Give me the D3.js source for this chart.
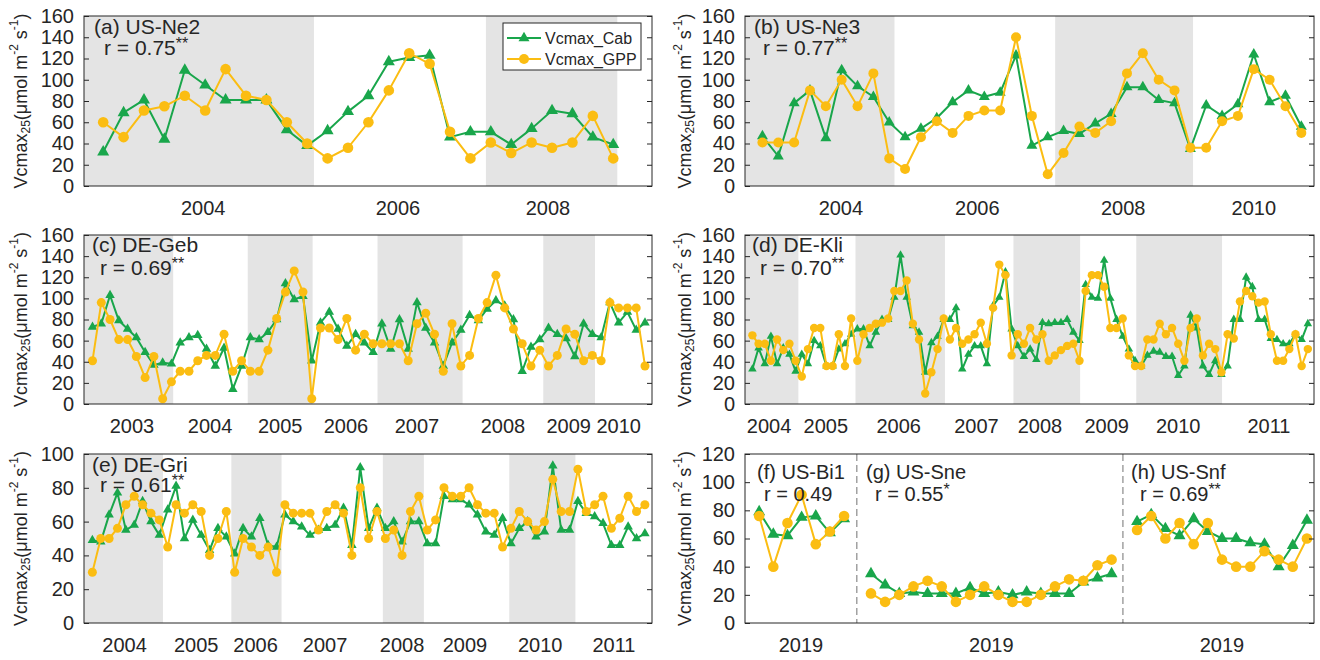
<!DOCTYPE html>
<html>
<head>
<meta charset="utf-8">
<script src="https://cdn.jsdelivr.net/npm/d3@7"></script>
<style>
body { margin: 0; background: #ffffff; }
text { font-family: "Liberation Sans", Arial, sans-serif; fill: #262626; }
</style>
</head>
<body>
<div id="canvas_vcmax"></div>
<script>
// ----------------------------------------------------------
// DATA -----------------------------------------------------
// ----------------------------------------------------------
// (a) US-Ne2
var cab_a = [32,69,81,44,109,95,81,81,81,53,38,52,70,85,117,121,123,46,51,51,39,54,71,68,46,39];
var gpp_a = [60,46,71,75,85,71,110,85,81,60,40,26,36,60,90,125,115,51,26,41,31,41,36,41,66,26];
// (b) US-Ne3
var cab_b = [47,28,78,90,45,109,94,84,60,46,54,64,79,90,84,88,123,38,46,52,49,59,68,93,93,81,78,35,76,66,77,124,79,85,56];
var gpp_b = [41,41,41,90,75,100,75,106,26,16,46,61,50,66,71,71,140,66,11,31,56,50,61,106,125,100,90,36,36,61,66,110,100,75,50];
// (c) DE-Geb
var cab_c = [73,76,103,79,71,63,49,37,39,38,58,63,65,52,36,53,14,36,63,61,68,80,114,99,102,41,77,87,71,55,66,58,49,76,52,80,52,96,72,58,36,58,70,84,79,90,98,93,80,31,54,61,72,66,62,45,76,66,63,96,77,87,70,77];
var gpp_c = [41,96,80,61,61,45,25,45,5,21,31,31,41,46,46,66,31,41,31,31,51,81,106,126,106,5,72,72,61,81,51,66,57,57,57,57,41,76,86,66,31,76,36,46,81,96,122,91,71,57,36,51,36,46,71,66,41,46,41,96,91,91,91,36];
// (d) DE-Kli
var cab_d = [33,53,38,64,38,53,47,31,47,38, 60,55,36,36,52,57,66,71,71,55, 68,80,80,101,141,101,74,68,30,58,
  64,80,80,91,33,47,55,55,38,93, 101,125,71,55,45,52,42,77,76,77, 77,80,68,60,113,101,100,136,100,80,
  64,52,41,36,46,50,49,45,45,27, 36,84,72,36,28,41,28,36,80,80, 120,111,80,80,62,61,57,57,66,61, 76];
var gpp_d = [65,57,57,41,61,51,57,41,26,52, 72,72,36,36,66,36,81,41,66,72, 76,77,81,107,107,117,76,61,10,30,
  52,81,61,72,57,61,66,77,57,91, 132,122,46,66,57,72,61,66,41,46, 51,55,57,41,107,122,122,111,72,72,
  81,46,36,36,61,61,76,66,72,57, 41,72,81,46,57,52,30,66,62,97, 107,102,96,97,66,41,41,52,66,36, 52];
// (e) DE-Gri
var cab_e = [49,48,64,77,55,58,72,60,52,67, 81,50,61,52,43,56,51,41,56,51, 62,46,45,64,60,57,52,55,56,58,
  68,46,92,56,68,56,60,48,60,60, 47,47,75,73,73,70,64,54,52,62, 47,56,60,51,54,93,55,55,72,65, 63,59,46,46,57,50,53];
var gpp_e = [30,50,50,56,70,75,70,65,61,45, 70,65,70,66,40,50,66,30,50,45, 40,45,30,70,65,65,65,55,66,70,
  65,40,80,50,66,50,55,40,66,75, 55,61,80,75,75,80,70,65,65,45, 56,66,60,55,60,85,66,66,91,66, 70,75,56,62,75,66,70];
// (f) US-Bi1, (g) US-Sne, (h) US-Snf
var cab_f = [79,63,62,75,76,64,74];
var gpp_f = [76,40,71,91,56,65,76];
var cab_g = [35,27,21,22,21,21,21,25,21,22,20,22,21,21,21,29,32,35];
var gpp_g = [21,15,20,26,30,26,15,20,26,20,15,15,20,26,31,30,41,45];
var cab_h = [72,77,67,62,74,65,60,60,57,56,40,55,73];
var gpp_h = [66,76,60,71,56,71,45,40,40,51,45,40,60];

// growing-season blocks (grey), in point-index units
var shade_a = [[-2, 10.33], [18.76, 25.2]];
var shade_b = [[-2, 8.33], [18.47, 27.17]];
var shade_c = [[-2, 9.2], [17.7, 25.1], [32.5, 42.2], [51.4, 57.3]];
var shade_d = [[-2, 7.45], [16.7, 31.2], [42.3, 53.1], [62.2, 76.1]];
var shade_e = [[-2, 8.43], [16.6, 22.6], [34.7, 39.6], [49.8, 57.7]];

// year tick labels [label, position in point-index units]
var years_a = [["2004", 4.9], ["2006", 14.45], ["2008", 21.8]];
var years_b = [["2004", 4.95], ["2006", 13.56], ["2008", 22.76], ["2010", 31]];
var years_c = [["2003", 4.5], ["2004", 13.4], ["2005", 21.4], ["2006", 28.9], ["2007", 37], ["2008", 46.8], ["2009", 54.3], ["2010", 60]];
var years_d = [["2004", 2.7], ["2005", 11.9], ["2006", 23.7], ["2007", 36.3], ["2008", 46.6], ["2009", 57.4], ["2010", 69], ["2011", 83.7]];
var years_e = [["2004", 3.85], ["2005", 12.4], ["2006", 19.5], ["2007", 27.8], ["2008", 37], ["2009", 44.5], ["2010", 53.5], ["2011", 62.3]];
var years_fgh = [["2019", 2.95], ["2019", 16.4], ["2019", 32.7]];

var yticks_160 = [0, 20, 40, 60, 80, 100, 120, 140, 160];
var yticks_100 = [0, 20, 40, 60, 80, 100];
var yticks_120 = [0, 20, 40, 60, 80, 100, 120];

var legend_labels = ["Vcmax_Cab", "Vcmax_GPP"];

// ----------------------------------------------------------
// STYLE ----------------------------------------------------
// ----------------------------------------------------------
var style = {
  color_cab: "#19a64b",
  color_gpp: "#fbbd12",
  color_shade: "#e4e4e4",
  color_axis: "#262626",
  color_dash: "#8a8a8a"
};

// ----------------------------------------------------------
// STRUCTURE ------------------------------------------------
// ----------------------------------------------------------
var svg = d3.select("#canvas_vcmax").append("svg")
  .attr("width", 1320)
  .attr("height", 660)
  .style("background-color", "#ffffff");

var col_left = [84, 652];
var col_right = [745, 1314];
var row_1 = [16, 186], row_2 = [235, 404], row_3 = [454, 623];

var panels = [
  { id: "a", xr: col_left, yr: row_1, xlim: [-0.94, 26.9], ymax: 160, yticks: yticks_160,
    shade: shade_a, years: years_a, tri: 12, rad: 5.3, fs: 21,
    series: [{ cab: cab_a, gpp: gpp_a, start: 0 }],
    titles: [{ t: "(a) US-Ne2", r: "r = 0.75", s: "**", x: 94, dx: 10 }], ty: 34, ry: 55 },
  { id: "b", xr: col_right, yr: row_1, xlim: [-1.1, 34.8], ymax: 160, yticks: yticks_160,
    shade: shade_b, years: years_b, tri: 11, rad: 5, fs: 21,
    series: [{ cab: cab_b, gpp: gpp_b, start: 0 }],
    titles: [{ t: "(b) US-Ne3", r: "r = 0.77", s: "**", x: 754, dx: 9 }], ty: 34, ry: 55 },
  { id: "c", xr: col_left, yr: row_2, xlim: [-0.97, 63.8], ymax: 160, yticks: yticks_160,
    shade: shade_c, years: years_c, tri: 9.5, rad: 4.5, fs: 21,
    series: [{ cab: cab_c, gpp: gpp_c, start: 0 }],
    titles: [{ t: "(c) DE-Geb", r: "r = 0.69", s: "**", x: 92, dx: 8 }], ty: 252, ry: 275 },
  { id: "d", xr: col_right, yr: row_2, xlim: [-1.2, 91], ymax: 160, yticks: yticks_160,
    shade: shade_d, years: years_d, tri: 8.5, rad: 4.2, fs: 21,
    series: [{ cab: cab_d, gpp: gpp_d, start: 0 }],
    titles: [{ t: "(d) DE-Kli", r: "r = 0.70", s: "**", x: 752, dx: 8 }], ty: 252, ry: 275 },
  { id: "e", xr: col_left, yr: row_3, xlim: [-1.0, 66.85], ymax: 100, yticks: yticks_100,
    shade: shade_e, years: years_e, tri: 9.5, rad: 4.5, fs: 21,
    series: [{ cab: cab_e, gpp: gpp_e, start: 0 }],
    titles: [{ t: "(e) DE-Gri", r: "r = 0.61", s: "**", x: 92, dx: 8 }], ty: 472, ry: 492 },
  { id: "fgh", xr: col_right, yr: row_3, xlim: [-1.0, 39.2], ymax: 120, yticks: yticks_120,
    shade: [], years: years_fgh, tri: 12, rad: 5.3, fs: 20, dashes: [6.9, 25.7],
    series: [{ cab: cab_f, gpp: gpp_f, start: 0 },
             { cab: cab_g, gpp: gpp_g, start: 7.9 },
             { cab: cab_h, gpp: gpp_h, start: 26.7 }],
    titles: [{ t: "(f) US-Bi1", r: "r = 0.49", s: "", x: 757, dx: 7 },
             { t: "(g) US-Sne", r: "r = 0.55", s: "*", x: 866, dx: 9 },
             { t: "(h) US-Snf", r: "r = 0.69", s: "**", x: 1131, dx: 9 }], ty: 479, ry: 501 }
];

// ----------------------------------------------------------
// GFX ------------------------------------------------------
// ----------------------------------------------------------
function draw_panel(p) {
  var g = svg.append("g").attr("class", "panel_" + p.id);
  var x = d3.scaleLinear().domain(p.xlim).range(p.xr);
  var y = d3.scaleLinear().domain([0, p.ymax]).range([p.yr[1], p.yr[0]]);

  g.append("clipPath").attr("id", "clip_" + p.id)
    .append("rect")
    .attr("x", p.xr[0]).attr("y", p.yr[0])
    .attr("width", p.xr[1] - p.xr[0]).attr("height", p.yr[1] - p.yr[0]);

  // shaded years
  g.append("g").attr("clip-path", "url(#clip_" + p.id + ")")
    .selectAll("rect").data(p.shade).enter().append("rect")
    .attr("x", function(d) { return x(d[0]); })
    .attr("width", function(d) { return x(d[1]) - x(d[0]); })
    .attr("y", p.yr[0])
    .attr("height", p.yr[1] - p.yr[0])
    .style("fill", style.color_shade);

  // dashed separators for f/g/h
  (p.dashes || []).forEach(function(dv) {
    g.append("line")
      .attr("x1", x(dv)).attr("x2", x(dv))
      .attr("y1", p.yr[0]).attr("y2", p.yr[1])
      .style("stroke", style.color_dash)
      .style("stroke-width", 1.2)
      .style("stroke-dasharray", "7,4");
  });

  var tri = d3.symbol().type(d3.symbolTriangle).size(Math.sqrt(3) / 4 * p.tri * p.tri);
  var circ = d3.symbol().type(d3.symbolCircle).size(Math.PI * p.rad * p.rad);

  p.series.forEach(function(s) {
    var pos = function(d, i) { return x(s.start + i); };
    var line = d3.line().x(pos).y(function(d) { return y(d); });
    [["cab", style.color_cab, tri], ["gpp", style.color_gpp, circ]].forEach(function(k) {
      g.append("path")
        .datum(s[k[0]])
        .attr("d", line)
        .style("fill", "none")
        .style("stroke", k[1])
        .style("stroke-width", 2)
        .style("stroke-linejoin", "round");
      g.append("g").selectAll("path").data(s[k[0]]).enter().append("path")
        .attr("d", k[2])
        .attr("transform", function(d, i) { return "translate(" + pos(d, i) + "," + y(d) + ")"; })
        .style("fill", k[1]);
    });
  });

  // box
  g.append("rect")
    .attr("x", p.xr[0]).attr("y", p.yr[0])
    .attr("width", p.xr[1] - p.xr[0]).attr("height", p.yr[1] - p.yr[0])
    .style("fill", "none")
    .style("stroke", style.color_axis)
    .style("stroke-width", 1);

  // y axes (ticks inward on both sides)
  var ax_l = g.append("g").attr("transform", "translate(" + p.xr[0] + ",0)")
    .call(d3.axisLeft(y).tickValues(p.yticks).tickSizeInner(-5).tickSizeOuter(0).tickPadding(10));
  var ax_r = g.append("g").attr("transform", "translate(" + p.xr[1] + ",0)")
    .call(d3.axisRight(y).tickValues(p.yticks).tickSizeInner(-5).tickSizeOuter(0).tickFormat(""));
  [ax_l, ax_r].forEach(function(a) {
    a.select(".domain").remove();
    a.selectAll("line").style("stroke", style.color_axis);
  });
  ax_l.selectAll("text")
    .style("font-family", "'Liberation Sans', Arial, sans-serif")
    .style("font-size", "20px")
    .style("fill", "#262626");

  // year labels
  g.selectAll(".year").data(p.years).enter().append("text")
    .attr("class", "year")
    .attr("x", function(d) { return x(d[1]); })
    .attr("y", p.yr[1] + 29)
    .attr("text-anchor", "middle")
    .style("font-size", "20px")
    .text(function(d) { return d[0]; });

  // panel titles and r values
  p.titles.forEach(function(t) {
    g.append("text")
      .attr("x", t.x).attr("y", p.ty)
      .style("font-size", p.fs + "px")
      .text(t.t);
    var r = g.append("text")
      .attr("x", t.x + t.dx).attr("y", p.ry)
      .style("font-size", p.fs + "px")
      .text(t.r);
    if (t.s) {
      r.append("tspan").attr("dy", -6).style("font-size", "16px").text(t.s);
    }
  });

  // y axis label
  var cx = p.xr[0] === col_left[0] ? 21 : 685;
  var lab = svg.append("text")
    .attr("transform", "translate(" + cx + "," + ((p.yr[0] + p.yr[1]) / 2) + ") rotate(-90)")
    .attr("text-anchor", "middle")
    .attr("dominant-baseline", "central")
    .style("font-size", "18px");
  lab.append("tspan").text("Vcmax");
  lab.append("tspan").attr("dy", 5).style("font-size", "12px").text("25");
  lab.append("tspan").attr("dy", -5).text("(\u03bcmol m");
  lab.append("tspan").attr("dy", -7).style("font-size", "12px").text("-2");
  lab.append("tspan").attr("dy", 7).text(" s");
  lab.append("tspan").attr("dy", -7).style("font-size", "12px").text("-1");
  lab.append("tspan").attr("dy", 7).text(")");
}

panels.forEach(draw_panel);

// ----------------------------------------------------------
// LEGEND (panel a) -----------------------------------------
// ----------------------------------------------------------
var legend = svg.append("g").attr("class", "legend");
legend.append("rect")
  .attr("x", 503).attr("y", 23).attr("width", 138).attr("height", 47)
  .style("fill", "#ffffff")
  .style("stroke", style.color_axis)
  .style("stroke-width", 1);
var leg_items = legend.selectAll(".item").data(legend_labels).enter().append("g")
  .attr("transform", function(d, i) { return "translate(0," + (38 + i * 21) + ")"; });
leg_items.append("line")
  .attr("x1", 507).attr("x2", 541)
  .style("stroke", function(d, i) { return i === 0 ? style.color_cab : style.color_gpp; })
  .style("stroke-width", 2);
leg_items.append("path")
  .attr("transform", "translate(524,0)")
  .attr("d", function(d, i) {
    return i === 0
      ? d3.symbol().type(d3.symbolTriangle).size(Math.sqrt(3) / 4 * 121)()
      : d3.symbol().type(d3.symbolCircle).size(Math.PI * 25)();
  })
  .style("fill", function(d, i) { return i === 0 ? style.color_cab : style.color_gpp; });
leg_items.append("text")
  .attr("x", 545)
  .attr("dy", "0.35em")
  .style("font-size", "16px")
  .text(function(d) { return d; });
</script>
</body>
</html>
